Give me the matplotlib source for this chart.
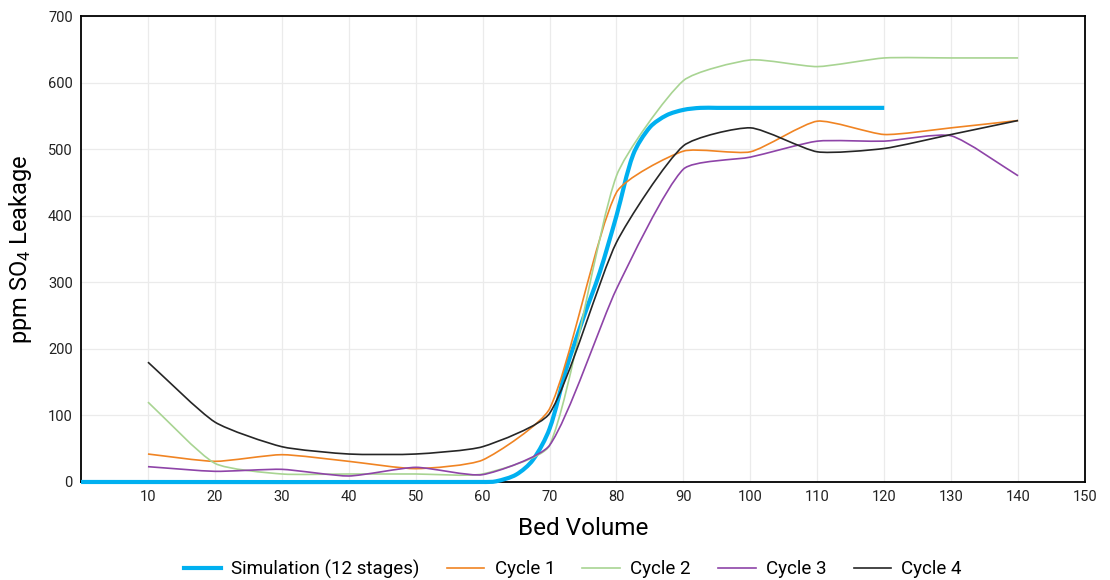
import matplotlib
matplotlib.use("Agg")
import matplotlib.pyplot as plt
from matplotlib.path import Path
from matplotlib.patches import PathPatch
from matplotlib.lines import Line2D
import numpy as np

plt.rcParams['font.family'] = ['Roboto', 'DejaVu Sans']
plt.rcParams['mathtext.default'] = 'regular'

# data
bed_volume = [10, 20, 30, 40, 50, 60, 70, 80, 90, 100, 110, 120, 130, 140]
cycle1 = [42, 31, 41, 31, 20, 33, 110, 435, 497, 496, 542, 522, 532, 543]
cycle2 = [120, 28, 12, 12, 12, 12, 55, 460, 603, 634, 624, 637, 637, 637]
cycle3 = [23, 16, 19, 9, 22, 11, 55, 290, 470, 488, 512, 512, 520, 460]
cycle4 = [180, 90, 53, 42, 42, 53, 103, 360, 505, 532, 496, 501, 522, 543]

sim_x = [0, 60, 62, 65, 67.5, 70, 72.5, 75, 77.5, 80, 82.5, 85, 87.5, 90, 92.5, 95, 100, 110, 120]
sim_y = [0, 0, 1, 11, 33, 80, 170, 245, 315, 400, 492, 533, 551, 559, 562, 562, 562, 562, 562]

x_ticks = [10, 20, 30, 40, 50, 60, 70, 80, 90, 100, 110, 120, 130, 140, 150]
y_ticks = [0, 100, 200, 300, 400, 500, 600, 700]

# rough pixel size of one data unit, so the smoothing works in screen space
PX_X = 6.69
PX_Y = 0.666


def smooth_path(x, y, tension=0.2):
    # smoothed line: bezier corners, arms scaled by chord lengths
    p = np.column_stack([np.asarray(x, float) * PX_X, np.asarray(y, float) * PX_Y])
    n = len(p)
    d = np.hypot(*np.diff(p, axis=0).T)
    tang_out = []
    tang_in = []
    for i in range(n):
        prev = p[i - 1] if i > 0 else p[i]
        nxt = p[i + 1] if i < n - 1 else p[i]
        d0 = d[i - 1] if i > 0 else 0.0
        d1 = d[i] if i < n - 1 else 0.0
        tot = d0 + d1
        tang_out.append((nxt - prev) * tension * (d1 / tot))
        tang_in.append((nxt - prev) * tension * (d0 / tot))
    verts = [p[0]]
    codes = [Path.MOVETO]
    for i in range(n - 1):
        verts += [p[i] + tang_out[i], p[i + 1] - tang_in[i + 1], p[i + 1]]
        codes += [Path.CURVE4] * 3
    verts = np.array(verts) / [PX_X, PX_Y]
    return Path(verts, codes)


series = [
    ("Simulation (12 stages)", sim_x, sim_y, "#00b0f0", 3.0, 0.3),
    ("Cycle 1", bed_volume, cycle1, "#f08423", 1.2, 0.2),
    ("Cycle 2", bed_volume, cycle2, "#a8d492", 1.2, 0.2),
    ("Cycle 3", bed_volume, cycle3, "#8e44a8", 1.2, 0.2),
    ("Cycle 4", bed_volume, cycle4, "#262626", 1.2, 0.2),
]

fig = plt.figure(figsize=(11.1, 5.8), dpi=100)
ax = fig.add_axes([0.073, 0.169, 0.9045, 0.8034])

handles = []
for i, (name, xs, ys, color, lw, tens) in enumerate(series):
    patch = PathPatch(smooth_path(xs, ys, tens), fill=False, edgecolor=color, lw=lw,
                      capstyle='butt', joinstyle='round', zorder=3 + i, clip_on=False)
    ax.add_patch(patch)
    handles.append(Line2D([], [], color=color, lw=lw, label=name))

ax.set_xlim(0, 150)
ax.set_ylim(0, 700)
ax.set_xticks(x_ticks)
ax.set_yticks(y_ticks)
ax.grid(True, color='#ebebeb', lw=0.9)
ax.set_axisbelow(True)
ax.tick_params(length=0, labelsize=10.5, pad=6, colors='#222222')
for s in ax.spines.values():
    s.set_color('black')
    s.set_linewidth(1.3)

ax.set_xlabel('Bed Volume', fontsize=17.5, labelpad=9)
ax.set_ylabel('ppm SO$_4$ Leakage', fontsize=17, labelpad=10)

fig.legend(handles=handles, loc='center', bbox_to_anchor=(0.516, 0.019), ncol=5,
           frameon=False, fontsize=13.5, handlelength=2.0, columnspacing=1.45, handletextpad=0.55)

fig.savefig('out.png', dpi=100)
